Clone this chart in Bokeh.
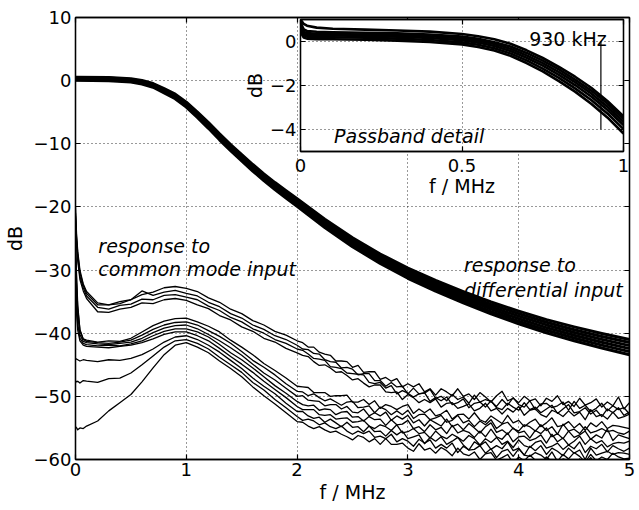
from bokeh.plotting import figure
from bokeh.models import Range1d, FixedTicker, LinearAxis, CustomLabelingPolicy
from bokeh.layouts import column
from bokeh.embed import file_html
from bokeh.resources import INLINE
from bokeh.core.properties import value

FONT = "DejaVu Sans"

# ---------------- tick labels ----------------
x_ticks = [0, 1, 2, 3, 4, 5]
x_tick_labels = ["0", "1", "2", "3", "4", "5"]
y_ticks = [-60, -50, -40, -30, -20, -10, 0, 10]
y_tick_labels = ["−60", "−50", "−40", "−30", "−20", "−10", "0", "10"]

inset_x_ticks = [0, 0.5, 1]
inset_x_tick_labels = ["0", "0.5", "1"]
inset_y_ticks = [-4, -2, 0]
inset_y_tick_labels = ["−4", "−2", "0"]

# ---------------- differential response (main plot, dB) ----------------
diff_freq = [0, 0.3, 0.5, 0.6, 0.7, 0.8, 0.9, 1.0, 1.1, 1.2, 1.3, 1.4, 1.5, 1.6, 1.7,
             1.8, 1.9, 2.0, 2.25, 2.5, 2.75, 3.0, 3.25, 3.5, 3.75, 4.0, 4.25, 4.5, 4.75, 5.0]
diff_1 = [0.55, 0.5, 0.3, 0.03, -0.45, -1.27, -2.14, -3.4, -4.98, -6.65, -8.43, -10.12, -11.7, -13.28, -14.76,
          -16.14, -17.42, -18.7, -21.95, -24.9, -27.45, -29.7, -31.65, -33.4, -35.05, -36.5, -37.85, -39.0, -40.05, -41.0]
diff_2 = [0.45, 0.4, 0.2, -0.08, -0.57, -1.4, -2.28, -3.56, -5.15, -6.83, -8.62, -10.31, -11.9, -13.49, -14.98,
          -16.36, -17.65, -18.94, -22.21, -25.18, -27.75, -30.02, -31.99, -33.76, -35.43, -36.9, -38.27, -39.44, -40.51, -41.48]
diff_3 = [0.35, 0.3, 0.1, -0.19, -0.69, -1.53, -2.43, -3.72, -5.32, -7.01, -8.81, -10.5, -12.1, -13.7, -15.19,
          -16.59, -17.88, -19.18, -22.47, -25.46, -28.05, -30.34, -32.33, -34.12, -35.81, -37.3, -38.69, -39.88, -40.97, -41.96]
diff_4 = [0.25, 0.2, 0.0, -0.31, -0.81, -1.67, -2.57, -3.88, -5.48, -7.19, -8.99, -10.7, -12.3, -13.9, -15.41,
          -16.81, -18.12, -19.42, -22.73, -25.74, -28.35, -30.66, -32.67, -34.48, -36.19, -37.7, -39.11, -40.32, -41.43, -42.44]
diff_5 = [0.15, 0.1, -0.1, -0.42, -0.93, -1.8, -2.72, -4.04, -5.65, -7.37, -9.18, -10.89, -12.5, -14.11, -15.62,
          -17.04, -18.35, -19.66, -22.99, -26.02, -28.65, -30.98, -33.01, -34.84, -36.57, -38.1, -39.53, -40.76, -41.89, -42.92]
diff_6 = [0.05, 0.0, -0.2, -0.53, -1.05, -1.93, -2.86, -4.2, -5.82, -7.55, -9.37, -11.08, -12.7, -14.32, -15.84,
          -17.26, -18.58, -19.9, -23.25, -26.3, -28.95, -31.3, -33.35, -35.2, -36.95, -38.5, -39.95, -41.2, -42.35, -43.4]

# ---------------- common-mode response (main plot, dB) ----------------
cm_freq = [0, 0.01, 0.02, 0.04, 0.07, 0.1, 0.2, 0.3, 0.4, 0.5, 0.6, 0.7, 0.8, 0.9,
           1.0, 1.1, 1.2, 1.3, 1.4, 1.5, 1.6, 1.7, 1.8, 1.9, 2.0,
           2.05, 2.1, 2.15, 2.2, 2.25, 2.3, 2.35, 2.4, 2.45, 2.5,
           2.55, 2.6, 2.65, 2.7, 2.75, 2.8, 2.85, 2.9, 2.95, 3.0,
           3.05, 3.1, 3.15, 3.2, 3.25, 3.3, 3.35, 3.4, 3.45, 3.5,
           3.55, 3.6, 3.65, 3.7, 3.75, 3.8, 3.85, 3.9, 3.95, 4.0,
           4.05, 4.1, 4.15, 4.2, 4.25, 4.3, 4.35, 4.4, 4.45, 4.5,
           4.55, 4.6, 4.65, 4.7, 4.75, 4.8, 4.85, 4.9, 4.95, 5.0]

cm_a1 = [-20.0, -24.5, -27.0, -30.0, -32.2, -33.4, -35.2, -35.5, -35.0, -34.7, -33.9, -33.5, -32.8, -32.6,
         -32.9, -33.4, -34.4, -35.1, -36.2, -36.9, -38.0, -38.7, -39.7, -40.3, -41.2,
         -41.5, -42.2, -42.2, -43.0, -43.3, -43.5, -44.4, -44.4, -44.5, -45.4,
         -45.1, -46.2, -46.1, -46.1, -47.3, -47.0, -47.6, -47.2, -48.5, -48.0,
         -48.5, -48.0, -49.3, -48.8, -49.8, -48.8, -49.3, -49.9, -48.8, -50.0,
         -49.6, -50.5, -49.4, -50.1, -50.9, -49.9, -49.2, -50.7, -50.3, -51.0,
         -50.0, -50.7, -50.4, -51.5, -50.3, -50.8, -49.9, -51.3, -50.8, -51.6,
         -50.3, -51.4, -51.0, -50.4, -51.7, -50.9, -51.5, -50.1, -52.0, -51.0]
cm_a2 = [-21.0, -25.0, -27.4, -30.4, -32.4, -33.7, -35.5, -35.5, -35.3, -34.7, -33.3, -34.0, -33.5, -33.2,
         -33.7, -34.1, -35.1, -35.8, -36.9, -37.6, -38.7, -39.4, -40.4, -41.0, -41.9,
         -42.5, -42.6, -43.2, -43.3, -44.2, -44.5, -44.6, -45.5, -45.4, -45.7,
         -46.6, -46.4, -46.4, -47.5, -47.5, -48.4, -47.8, -48.5, -48.4, -49.6,
         -48.7, -49.6, -49.5, -48.9, -50.3, -50.0, -50.7, -49.7, -50.5, -50.1,
         -51.1, -49.8, -50.9, -50.5, -50.8, -51.6, -50.5, -51.4, -50.2, -51.3,
         -51.7, -50.7, -52.1, -51.2, -51.1, -51.8, -51.5, -50.9, -52.2, -50.8,
         -51.9, -51.4, -52.4, -51.9, -51.1, -52.3, -51.5, -52.1, -51.8, -52.8]
cm_a3 = [-21.5, -25.5, -28.0, -31.0, -32.8, -34.1, -35.9, -36.2, -35.6, -35.4, -34.6, -34.7, -34.0, -33.9,
         -34.3, -34.7, -35.7, -36.4, -37.5, -38.2, -39.3, -40.0, -41.0, -41.6, -42.5,
         -42.7, -43.3, -44.0, -44.1, -44.3, -45.3, -45.4, -45.6, -46.3, -46.4,
         -46.5, -46.6, -47.8, -48.0, -47.8, -48.7, -48.3, -49.6, -49.1, -49.5,
         -50.1, -49.6, -49.4, -50.8, -50.2, -50.7, -50.1, -51.3, -51.0, -50.4,
         -51.8, -51.1, -50.9, -51.7, -50.7, -51.8, -52.1, -51.1, -51.7, -52.2,
         -51.0, -52.1, -51.7, -52.6, -52.0, -51.4, -52.7, -52.0, -51.3, -52.6,
         -52.4, -51.8, -52.8, -52.2, -53.2, -52.0, -52.6, -51.8, -53.0, -52.5]
cm_a4 = [-22.0, -26.0, -28.5, -31.5, -33.3, -34.5, -36.6, -36.7, -36.2, -35.9, -35.2, -35.3, -34.7, -34.5,
         -34.8, -35.5, -36.1, -37.2, -37.9, -39.0, -39.7, -40.8, -41.4, -42.4, -43.1,
         -43.5, -43.7, -44.5, -45.1, -45.0, -45.5, -46.2, -46.1, -46.7, -47.4,
         -47.2, -47.9, -48.5, -48.2, -48.2, -49.3, -49.4, -49.3, -50.5, -49.7,
         -50.2, -51.0, -50.5, -51.0, -50.4, -51.7, -51.1, -51.0, -51.9, -51.6,
         -51.2, -52.3, -51.9, -51.1, -52.3, -51.9, -52.8, -51.9, -52.5, -51.6,
         -53.0, -52.2, -52.0, -52.9, -53.3, -52.2, -52.6, -53.2, -52.3, -53.1,
         -52.5, -53.7, -52.1, -53.2, -52.9, -53.6, -52.5, -53.5, -53.2, -52.8]

cm_b1 = [-26.0, -32.0, -36.0, -39.5, -40.9, -41.1, -41.4, -41.2, -41.3, -40.8, -39.8, -38.8, -38.1, -37.7,
         -37.6, -38.2, -38.9, -39.8, -41.1, -42.2, -43.4, -44.8, -45.9, -47.1, -48.4,
         -48.5, -48.6, -49.4, -49.4, -49.4, -50.0, -49.9, -49.9, -49.8, -50.9,
         -50.9, -50.5, -51.3, -50.7, -51.9, -51.3, -51.6, -52.1, -51.6, -51.3,
         -52.7, -52.0, -52.6, -52.0, -53.1, -52.8, -52.2, -53.6, -52.9, -52.8,
         -53.6, -52.6, -53.7, -54.1, -53.1, -53.7, -54.3, -53.0, -54.2, -53.8,
         -54.8, -54.1, -53.6, -54.8, -54.2, -53.4, -54.8, -54.6, -54.0, -55.0,
         -54.3, -55.4, -54.2, -54.8, -54.0, -55.1, -54.6, -54.7, -54.9, -55.1]
cm_b2 = [-25.0, -31.0, -35.5, -39.5, -41.0, -41.3, -41.5, -41.6, -41.4, -41.1, -40.3, -39.4, -38.7, -38.3,
         -38.2, -38.7, -39.6, -40.5, -41.6, -42.9, -44.3, -45.4, -46.6, -48.0, -49.2,
         -49.3, -49.9, -49.6, -50.2, -50.7, -50.4, -50.9, -51.4, -50.9, -50.8,
         -51.8, -51.7, -51.5, -52.6, -51.7, -52.1, -52.9, -52.3, -52.9, -52.2,
         -53.5, -52.9, -52.8, -53.7, -53.4, -53.0, -54.1, -53.8, -53.0, -54.2,
         -53.8, -54.8, -53.9, -54.5, -53.7, -55.1, -54.4, -54.1, -55.1, -55.5,
         -54.5, -54.8, -55.5, -54.5, -55.4, -54.8, -56.0, -54.4, -55.5, -55.2,
         -55.9, -54.8, -55.8, -55.5, -55.1, -55.6, -55.4, -55.8, -56.0, -55.5]
cm_b3 = [-28.0, -33.0, -37.0, -40.2, -41.3, -41.5, -41.7, -41.8, -41.6, -41.4, -40.8, -39.9, -39.2, -38.8,
         -38.7, -39.3, -40.2, -41.2, -42.3, -43.5, -44.9, -46.3, -47.4, -48.7, -50.0,
         -49.9, -50.6, -50.7, -50.8, -51.5, -51.3, -51.3, -52.0, -51.6, -52.5,
         -52.6, -52.0, -53.1, -52.6, -53.1, -52.5, -53.8, -53.1, -53.6, -53.0,
         -54.2, -53.7, -54.7, -53.7, -54.2, -54.7, -53.6, -54.8, -54.4, -55.3,
         -54.3, -55.0, -55.8, -54.8, -54.2, -55.7, -55.3, -56.0, -55.0, -55.8,
         -55.5, -56.6, -55.4, -55.9, -55.0, -56.4, -55.9, -56.7, -55.5, -56.5,
         -56.1, -55.5, -56.8, -56.1, -56.6, -55.2, -57.0, -56.1, -56.4, -56.7]
cm_b4 = [-30.0, -35.0, -38.5, -40.8, -41.6, -41.8, -42.0, -41.9, -42.0, -41.7, -41.2, -40.4, -39.7, -39.3,
         -39.3, -39.8, -40.6, -41.8, -43.1, -44.2, -45.5, -46.9, -48.3, -49.5, -50.8,
         -51.3, -51.5, -51.4, -52.2, -52.0, -52.1, -52.9, -52.5, -52.4, -53.3,
         -53.2, -53.9, -53.2, -53.7, -53.6, -54.6, -53.7, -54.5, -54.4, -53.8,
         -55.1, -54.8, -55.6, -54.5, -55.3, -54.9, -55.9, -54.6, -55.8, -55.4,
         -55.7, -56.5, -55.5, -56.4, -55.2, -56.4, -56.8, -55.8, -57.2, -56.4,
         -56.3, -57.0, -56.7, -56.1, -57.4, -56.0, -57.2, -56.6, -57.7, -57.1,
         -56.3, -57.6, -56.7, -57.4, -57.0, -58.0, -57.5, -57.3, -57.4, -57.1]
cm_b5 = [-33.0, -37.0, -39.5, -41.2, -41.9, -42.1, -42.2, -42.3, -42.1, -41.9, -41.5, -40.9, -40.2, -39.8,
         -39.8, -40.4, -41.2, -42.4, -43.7, -44.9, -46.2, -47.6, -48.9, -50.2, -51.6,
         -52.1, -52.1, -52.1, -52.9, -53.0, -52.9, -53.6, -53.5, -53.4, -54.1,
         -54.0, -53.8, -54.7, -55.1, -54.5, -54.8, -55.4, -54.5, -55.8, -55.6,
         -55.1, -55.9, -55.7, -56.6, -55.5, -56.3, -56.7, -56.0, -56.5, -57.1,
         -56.2, -56.7, -57.7, -56.7, -57.3, -56.5, -57.6, -57.1, -58.1, -56.9,
         -57.8, -58.1, -57.3, -57.0, -58.2, -57.9, -57.4, -58.4, -57.7, -58.3,
         -57.2, -58.9, -57.9, -58.3, -57.6, -58.8, -57.8, -58.3, -58.7, -58.2]
cm_b6 = [-44.0, -44.1, -44.2, -44.4, -44.2, -44.3, -44.5, -44.2, -44.3, -44.0, -43.4, -42.5, -41.4, -40.6,
         -40.4, -41.0, -41.9, -43.0, -44.3, -45.6, -47.1, -48.4, -49.6, -51.1, -52.4,
         -52.4, -53.1, -53.5, -53.3, -54.1, -53.6, -54.2, -54.8, -54.1, -54.9,
         -54.8, -55.6, -54.7, -55.6, -55.5, -56.3, -55.4, -56.1, -55.5, -56.7,
         -56.4, -56.1, -57.5, -56.5, -57.1, -56.4, -57.6, -57.1, -56.5, -57.7,
         -58.5, -57.2, -57.8, -57.2, -58.4, -57.8, -58.3, -57.2, -58.6, -58.2,
         -59.3, -57.9, -58.6, -57.8, -59.2, -58.2, -58.7, -59.4, -58.2, -59.0,
         -58.5, -60.0, -58.2, -59.3, -59.0, -58.7, -59.2, -58.9, -59.0, -59.2]
cm_b7 = [-47.5, -47.7, -47.6, -47.9, -47.5, -47.6, -47.8, -47.2, -47.1, -46.3, -45.0, -43.6, -42.2, -41.2,
         -41.0, -41.6, -42.5, -43.8, -45.0, -46.2, -47.8, -49.0, -50.5, -51.8, -53.2,
         -53.8, -53.6, -53.9, -54.5, -54.2, -54.8, -55.1, -54.7, -55.5, -56.0,
         -55.5, -55.9, -55.5, -56.5, -56.3, -56.7, -56.0, -57.2, -56.7, -57.1,
         -57.9, -56.8, -57.4, -56.9, -58.2, -57.6, -58.2, -57.4, -58.9, -57.9,
         -58.5, -58.4, -57.8, -59.0, -58.3, -59.7, -58.7, -58.4, -59.5, -58.3,
         -59.3, -59.5, -58.9, -59.3, -60.0, -58.8, -60.3, -59.2, -59.9, -58.9,
         -59.5, -60.4, -59.2, -60.2, -59.6, -60.0, -59.0, -59.6, -59.9, -59.8]
cm_b8 = [-54.8, -55.0, -55.3, -55.0, -55.1, -54.7, -53.9, -52.3, -51.0, -49.7, -47.7, -45.5, -43.4, -41.9,
         -41.5, -42.2, -43.1, -44.4, -45.6, -46.9, -48.5, -49.9, -51.2, -52.6, -54.0,
         -54.1, -54.7, -55.1, -54.8, -55.3, -55.7, -55.5, -56.0, -56.4, -56.9,
         -56.2, -56.5, -57.2, -56.7, -57.6, -56.7, -57.6, -57.6, -57.4, -58.2,
         -58.7, -57.5, -58.5, -58.2, -59.0, -58.1, -58.6, -59.4, -58.2, -59.1,
         -59.4, -58.8, -60.0, -59.1, -58.9, -60.1, -59.7, -59.2, -60.6, -59.6,
         -60.2, -59.3, -60.1, -60.7, -59.6, -60.3, -61.2, -59.9, -60.2, -60.9,
         -59.9, -60.7, -59.7, -61.0, -60.5, -61.3, -60.2, -60.8, -60.8, -60.6]

# ---------------- passband detail (inset, dB) ----------------
pb_freq = [0, 0.005, 0.01, 0.02, 0.05, 0.1, 0.2, 0.3, 0.4, 0.5, 0.55, 0.6, 0.65, 0.7,
           0.75, 0.8, 0.85, 0.9, 0.95, 1.0]
pb_1 = [1.0, 0.9, 0.8, 0.72, 0.63, 0.58, 0.54, 0.5, 0.45, 0.34, 0.24, 0.1, -0.1, -0.4,
        -0.75, -1.15, -1.6, -2.1, -2.7, -3.4]
pb_2 = [0.9, 0.7, 0.55, 0.48, 0.44, 0.42, 0.4, 0.37, 0.32, 0.22, 0.12, -0.03, -0.23, -0.52,
        -0.87, -1.27, -1.73, -2.23, -2.82, -3.52]
pb_3 = [0.8, 0.6, 0.45, 0.38, 0.35, 0.34, 0.32, 0.29, 0.24, 0.14, 0.04, -0.11, -0.33, -0.63,
        -0.98, -1.39, -1.85, -2.36, -2.96, -3.66]
pb_4 = [0.7, 0.5, 0.35, 0.3, 0.28, 0.27, 0.25, 0.22, 0.16, 0.06, -0.05, -0.2, -0.43, -0.74,
        -1.1, -1.52, -1.98, -2.5, -3.1, -3.8]
pb_5 = [0.6, 0.4, 0.28, 0.22, 0.2, 0.19, 0.17, 0.13, 0.07, -0.04, -0.15, -0.31, -0.54, -0.86,
        -1.23, -1.65, -2.13, -2.66, -3.27, -3.98]
pb_6 = [0.5, 0.3, 0.18, 0.13, 0.11, 0.1, 0.08, 0.04, -0.02, -0.13, -0.25, -0.41, -0.65, -0.98,
        -1.36, -1.8, -2.28, -2.83, -3.45, -4.18]

marker_freq = 0.93      # MHz, 930 kHz marker
marker_top = 0.0
marker_bottom = -4.0

diff_curves = [diff_1, diff_2, diff_3, diff_4, diff_5, diff_6]
cm_curves = [cm_a1, cm_a2, cm_a3, cm_a4, cm_b1, cm_b2, cm_b3, cm_b4,
             cm_b5, cm_b6, cm_b7, cm_b8]
pb_curves = [pb_1, pb_2, pb_3, pb_4, pb_5, pb_6]
for c in diff_curves:
    assert len(c) == len(diff_freq)
for c in cm_curves:
    assert len(c) == len(cm_freq), len(c)
for c in pb_curves:
    assert len(c) == len(pb_freq)

HIDE_LABELS_JS = """
for (let i = 0; i < indices.size; i++) { indices.unset(i) }
return indices
"""


def style_axis(ax, ticks, labels, size="18px", show_labels=True):
    ax.ticker = FixedTicker(ticks=ticks)
    ax.minor_tick_line_color = None
    ax.major_tick_in = 5
    ax.major_tick_out = 0
    ax.major_tick_line_color = "black"
    ax.major_tick_line_width = 1.2
    ax.axis_line_color = "black"
    ax.axis_line_width = 1.3
    ax.major_label_text_font = FONT
    ax.major_label_text_color = "black"
    ax.axis_label_text_font = FONT
    ax.axis_label_text_font_style = "normal"
    ax.axis_label_text_color = "black"
    ax.axis_label_text_font_size = "19px"
    if show_labels:
        ax.major_label_overrides = dict(zip(ticks, labels))
        ax.major_label_text_font_size = size
    else:
        # tick marks only: mirror axis without any labels
        ax.major_label_policy = CustomLabelingPolicy(code=HIDE_LABELS_JS)
        ax.major_label_text_font_size = "0px"
        ax.major_label_standoff = 0


# ---------------- main figure ----------------
p = figure(width=639, height=510, x_range=Range1d(0, 5), y_range=Range1d(-60, 10),
           output_backend="svg", toolbar_location=None,
           min_border_left=75, min_border_right=5, min_border_top=17, min_border_bottom=51,
           background_fill_color="white", border_fill_color="white")
p.outline_line_color = "black"
p.outline_line_width = 1.3

style_axis(p.xaxis[0], x_ticks, x_tick_labels)
style_axis(p.yaxis[0], y_ticks, y_tick_labels)
p.xaxis.axis_label = "f / MHz"
p.yaxis.axis_label = "dB"
p.xaxis.major_label_standoff = 3
p.xaxis.axis_label_standoff = 2
p.yaxis.major_label_standoff = 4

ax_r = LinearAxis()
style_axis(ax_r, y_ticks, y_tick_labels, show_labels=False)
p.add_layout(ax_r, "right")
ax_t = LinearAxis()
style_axis(ax_t, x_ticks, x_tick_labels, show_labels=False)
p.add_layout(ax_t, "above")

for g, t in ((p.xgrid, x_ticks), (p.ygrid, y_ticks)):
    g.ticker = FixedTicker(ticks=t)
    g.grid_line_color = "black"
    g.grid_line_alpha = 0.8
    g.grid_line_dash = "1 3"
    g.grid_line_width = 1

for c in cm_curves:
    p.line(cm_freq, c, line_color="black", line_width=1.3, line_join="round")
for c in diff_curves:
    p.line(diff_freq, c, line_color="black", line_width=3.0, line_join="round")

txt = dict(text_font=value(FONT), text_font_style="italic", text_font_size="19px",
           text_color="black", text_baseline="alphabetic", text_align="left")
p.text(x=[0.206], y=[-26.2], text=["response to"], **txt)
p.text(x=[0.206], y=[-29.8], text=["common mode input"], **txt)
p.text(x=[3.506], y=[-29.2], text=["response to"], **txt)
p.text(x=[3.506], y=[-33.1], text=["differential input"], **txt)

# ---------------- inset figure ----------------
pi = figure(width=408, height=194, x_range=Range1d(0, 1), y_range=Range1d(-5, 1),
            output_backend="svg", toolbar_location=None,
            min_border_left=62, min_border_right=10, min_border_top=10, min_border_bottom=52,
            background_fill_color="white", border_fill_color=None)
pi.outline_line_color = "black"
pi.outline_line_width = 1.3
style_axis(pi.xaxis[0], inset_x_ticks, inset_x_tick_labels)
style_axis(pi.yaxis[0], inset_y_ticks, inset_y_tick_labels)
pi.xaxis.axis_label = "f / MHz"
pi.yaxis.axis_label = "dB"
pi.xaxis.major_label_standoff = 7
pi.xaxis.axis_label_standoff = 0
pi.yaxis.major_label_standoff = 4
pi.yaxis.axis_label_standoff = 1
ai_r = LinearAxis()
style_axis(ai_r, inset_y_ticks, inset_y_tick_labels, show_labels=False)
pi.add_layout(ai_r, "right")
ai_t = LinearAxis()
style_axis(ai_t, inset_x_ticks, inset_x_tick_labels, show_labels=False)
pi.add_layout(ai_t, "above")
for g, t in ((pi.xgrid, inset_x_ticks), (pi.ygrid, inset_y_ticks)):
    g.ticker = FixedTicker(ticks=t)
    g.grid_line_color = "black"
    g.grid_line_alpha = 0.8
    g.grid_line_dash = "1 3"
    g.grid_line_width = 1

for c in pb_curves:
    pi.line(pb_freq, c, line_color="black", line_width=2.6, line_join="round")
pi.segment(x0=[marker_freq], y0=[marker_top], x1=[marker_freq], y1=[marker_bottom],
           line_color="black", line_width=1.2)
pi.text(x=[0.948], y=[0.1], text=["930 kHz"], text_font=value(FONT), text_font_size="19px",
        text_color="black", text_baseline="alphabetic", text_align="right")
pi.text(x=[0.104], y=[-4.3], text=["Passband detail"], text_font=value(FONT),
        text_font_style="italic", text_font_size="19px", text_color="black",
        text_baseline="alphabetic", text_align="left")

pi.margin = (-501, 0, 0, 225)
layout = column(p, pi, spacing=0)

open("out.html", "w").write(file_html(layout, INLINE))
